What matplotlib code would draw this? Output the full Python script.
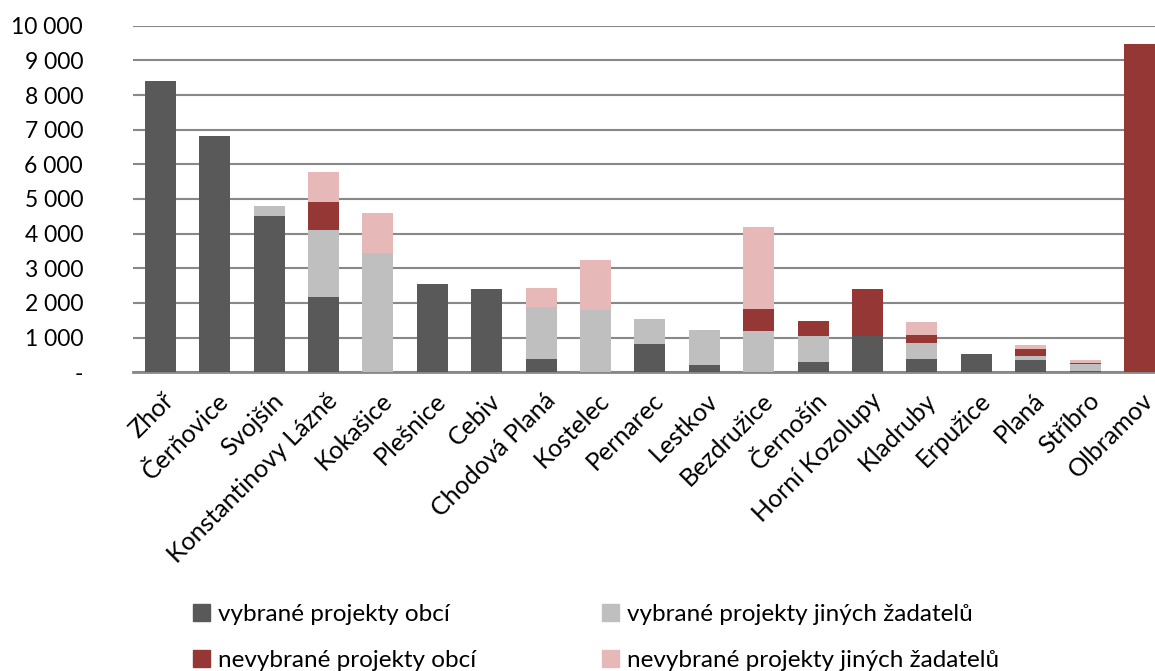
import matplotlib.pyplot as plt
import matplotlib.transforms as mtransforms
import numpy as np
from matplotlib.patches import Patch

plt.rcParams['font.family'] = ['Lato', 'DejaVu Sans']

obce = ['Zhoř', 'Čerňovice', 'Svojšín', 'Konstantinovy Lázně', 'Kokašice', 'Plešnice',
        'Cebiv', 'Chodová Planá', 'Kostelec', 'Pernarec', 'Lestkov', 'Bezdružice',
        'Černošín', 'Horní Kozolupy', 'Kladruby', 'Erpužice', 'Planá', 'Stříbro', 'Olbramov']

vybrane_obci = [8400, 6820, 4510, 2180, 0, 2560, 2390, 380, 0, 820, 200, 0,
                300, 1040, 380, 530, 350, 40, 0]
vybrane_jinych = [0, 0, 290, 1930, 3440, 0, 0, 1510, 1800, 730, 1010, 1180,
                  760, 0, 470, 0, 120, 190, 0]
nevybrane_obci = [0, 0, 0, 810, 0, 0, 0, 0, 0, 0, 0, 640,
                  420, 1360, 230, 0, 210, 30, 9470]
nevybrane_jinych = [0, 0, 0, 850, 1150, 0, 0, 540, 1430, 0, 0, 2370,
                    0, 0, 370, 0, 120, 100, 0]

series = [
    ('vybrané projekty obcí', vybrane_obci, '#595959'),
    ('vybrané projekty jiných žadatelů', vybrane_jinych, '#BFBFBF'),
    ('nevybrané projekty obcí', nevybrane_obci, '#953735'),
    ('nevybrané projekty jiných žadatelů', nevybrane_jinych, '#E6B9B8'),
]

fig = plt.figure(figsize=(11.55, 6.71), dpi=100)
ax = fig.add_axes([0.1152, 0.4452, 0.895, 0.5165])

x = np.arange(len(obce))
bottom = np.zeros(len(obce))
for name, vals, col in series:
    vals = np.array(vals, dtype=float)
    ax.bar(x, vals, 0.57, bottom=bottom, color=col, zorder=3)
    bottom += vals

ax.set_xlim(-0.5, len(obce) - 0.5)
ax.set_ylim(0, 10000)
ticks = np.arange(0, 10001, 1000)
ax.set_yticks(ticks)
ax.set_yticklabels(['-'] + [f'{t:,}'.replace(',', ' ') for t in ticks[1:]], fontsize=16.5)
ax.yaxis.grid(True, color='#888888', linewidth=1.5, zorder=0)
ax.set_axisbelow(True)
ax.tick_params(axis='y', length=0, pad=36)
ax.tick_params(axis='x', length=0, pad=4)
ax.set_xticks(x)
ax.set_xticklabels(obce, rotation=45, ha='right', rotation_mode='anchor', fontsize=18)
# posun popisku trochu doprava a dolu
posun = mtransforms.ScaledTranslation(2 / 100, -11 / 100, fig.dpi_scale_trans)
for lab in ax.get_xticklabels():
    lab.set_transform(lab.get_transform() + posun)
for s in ['top', 'right', 'left']:
    ax.spines[s].set_visible(False)
ax.spines['bottom'].set_color('#888888')
ax.spines['bottom'].set_linewidth(2)

# legenda ve dvou sloupcich
col1 = [Patch(color=series[0][2], label=series[0][0]), Patch(color=series[2][2], label=series[2][0])]
col2 = [Patch(color=series[1][2], label=series[1][0]), Patch(color=series[3][2], label=series[3][0])]
for hs, xa in [(col1, 0.167), (col2, 0.521)]:
    fig.legend(handles=hs, loc='center left', bbox_to_anchor=(xa, 0.05),
               frameon=False, fontsize=17.5, handlelength=0.7, handleheight=0.7,
               handletextpad=0.35, labelspacing=1.0, borderpad=0, borderaxespad=0)

fig.savefig('out.png', dpi=100)
